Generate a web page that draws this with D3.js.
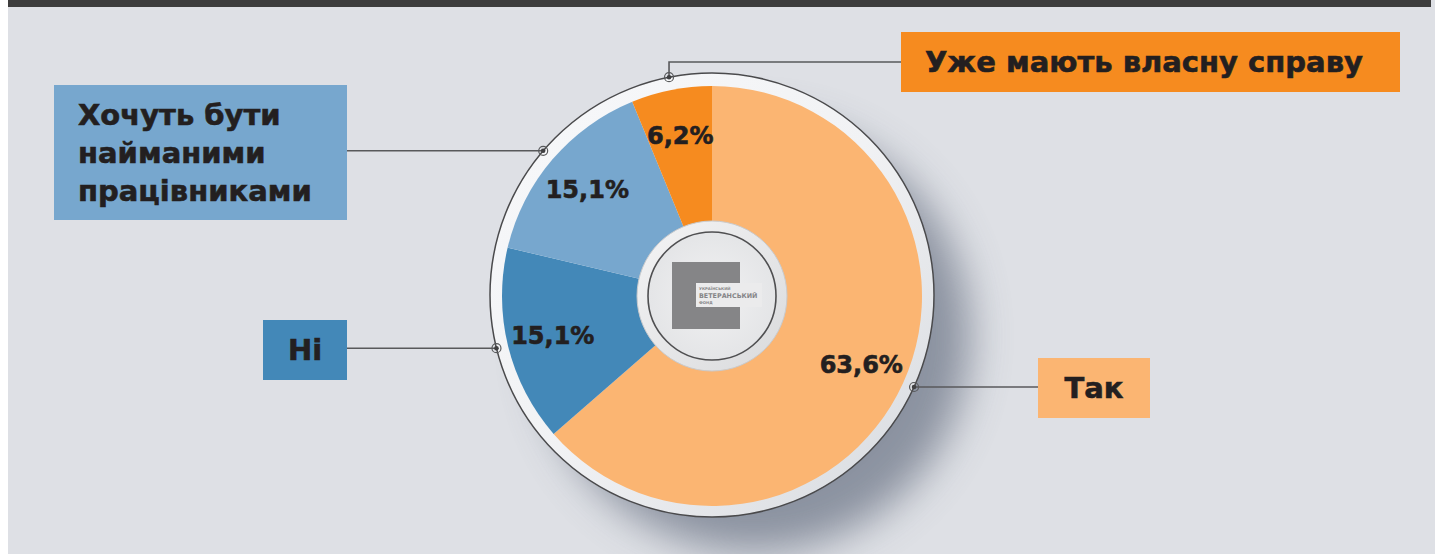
<!DOCTYPE html>
<html>
<head>
<meta charset="utf-8">
<script src="https://cdn.jsdelivr.net/npm/d3@7"></script>
<style>
  html, body { margin: 0; padding: 0; background: #ffffff; }
  svg { display: block; }
  text { font-family: "DejaVu Sans", "Noto Sans", sans-serif; font-weight: 700; fill: #231f20; }
  text.heavy { stroke: #231f20; stroke-width: 0.6px; }
</style>
</head>
<body>
<svg id="chart"></svg>
<script>
// дані
var categories = ['Так', 'Ні', 'Хочуть бути найманими працівниками', 'Уже мають власну справу'];
var values = [63.6, 15.1, 15.1, 6.2];
var value_labels = ['63,6%', '15,1%', '15,1%', '6,2%'];
var box_lines = [['Так'], ['Ні'], ['Хочуть бути', 'найманими', 'працівниками'], ['Уже мають власну справу']];
var colors = ['#fbb572', '#4388b8', '#77a7ce', '#f68b1f'];

var width = 1435;
var height = 554;
var cx = 712, cy = 296;
var r_pie = 210;
var r_ring = 222;

// рамки підписів
var boxes = [
  {'x': 1038, 'y': 358, 'w': 112, 'h': 60, 'anchor': 'middle'},
  {'x': 263, 'y': 320, 'w': 84, 'h': 60, 'anchor': 'middle'},
  {'x': 54, 'y': 85, 'w': 293, 'h': 135, 'anchor': 'start'},
  {'x': 901, 'y': 32, 'w': 499, 'h': 60, 'anchor': 'start'}
];

var svg = d3.select('#chart')
  .attr('width', width)
  .attr('height', height);

var defs = svg.append('defs');

var blur = defs.append('filter').attr('id', 'blur')
  .attr('x', '-50%').attr('y', '-50%').attr('width', '200%').attr('height', '200%');
blur.append('feGaussianBlur').attr('stdDeviation', 20);

var ring_grad = defs.append('linearGradient').attr('id', 'ring_grad')
  .attr('x1', '0%').attr('y1', '0%').attr('x2', '100%').attr('y2', '100%');
ring_grad.append('stop').attr('offset', '0%').attr('stop-color', '#f8f9fb');
ring_grad.append('stop').attr('offset', '50%').attr('stop-color', '#f1f2f4');
ring_grad.append('stop').attr('offset', '100%').attr('stop-color', '#d6d9de');

var disc_grad = defs.append('linearGradient').attr('id', 'disc_grad')
  .attr('x1', '0%').attr('y1', '0%').attr('x2', '100%').attr('y2', '100%');
disc_grad.append('stop').attr('offset', '0%').attr('stop-color', '#f4f4f5');
disc_grad.append('stop').attr('offset', '100%').attr('stop-color', '#d9dadc');

var inner_grad = defs.append('radialGradient').attr('id', 'inner_grad');
inner_grad.append('stop').attr('offset', '0%').attr('stop-color', '#f1f1f2');
inner_grad.append('stop').attr('offset', '100%').attr('stop-color', '#e4e5e7');

// фон
svg.append('rect')
  .attr('x', 8).attr('y', 0)
  .attr('width', width - 8).attr('height', height)
  .attr('fill', '#dee0e5');
svg.append('rect')
  .attr('x', 8).attr('y', 0)
  .attr('width', width - 12).attr('height', 7)
  .attr('fill', '#3d3d3d');

// тінь
svg.append('circle')
  .attr('cx', cx + 42).attr('cy', cy + 40)
  .attr('r', r_ring - 6)
  .attr('fill', '#6f7889')
  .attr('opacity', 0.75)
  .attr('filter', 'url(#blur)');

// кільце
svg.append('circle')
  .attr('cx', cx).attr('cy', cy - 1)
  .attr('r', r_ring)
  .attr('fill', 'url(#ring_grad)')
  .attr('stroke', '#4a4a4c')
  .attr('stroke-width', 1.5);

var pie = d3.pie().sort(null).value(function(d) { return d; });
var arcs = pie(values);

var arc = d3.arc().innerRadius(0).outerRadius(r_pie);
var label_arc = d3.arc().innerRadius(124).outerRadius(204);

var chart = svg.append('g')
  .attr('transform', 'translate(' + cx + ',' + cy + ')');

chart.selectAll('path.slice')
  .data(arcs).enter()
  .append('path')
  .attr('class', 'slice')
  .attr('d', arc)
  .attr('fill', function(d, i) { return colors[i]; });

chart.selectAll('text.value')
  .data(arcs).enter()
  .append('text')
  .attr('class', 'value heavy')
  .attr('transform', function(d) {
    var c = label_arc.centroid(d);
    return 'translate(' + c[0] + ',' + c[1] + ')';
  })
  .attr('text-anchor', 'middle')
  .attr('dy', '0.36em')
  .attr('font-size', 24)
  .text(function(d, i) { return value_labels[i]; });

// центральний диск
chart.append('circle')
  .attr('r', 75)
  .attr('fill', 'url(#disc_grad)')
  .attr('stroke', '#c9cacc')
  .attr('stroke-width', 1);
chart.append('circle')
  .attr('r', 64)
  .attr('fill', 'url(#inner_grad)')
  .attr('stroke', '#4f4f51')
  .attr('stroke-width', 1.6);

// логотип
var logo = chart.append('g').attr('transform', 'translate(-40,-34)');
logo.append('rect')
  .attr('x', 0).attr('y', 0).attr('width', 68).attr('height', 67)
  .attr('fill', '#858587');
logo.append('rect')
  .attr('x', 24).attr('y', 21).attr('width', 66).attr('height', 24)
  .attr('fill', '#ebebec');
logo.append('text')
  .attr('x', 27).attr('y', 28)
  .attr('font-size', 3.8).attr('font-weight', 400)
  .style('fill', '#858587')
  .text('УКРАЇНСЬКИЙ');
logo.append('text')
  .attr('x', 27).attr('y', 36)
  .attr('font-size', 6.4).attr('font-weight', 700)
  .style('fill', '#858587')
  .text('ВЕТЕРАНСЬКИЙ');
logo.append('text')
  .attr('x', 27).attr('y', 42)
  .attr('font-size', 3.8).attr('font-weight', 400)
  .style('fill', '#858587')
  .text('ФОНД');

// виноски
var leaders = svg.append('g');
arcs.forEach(function(d, i) {
  var a = (d.startAngle + d.endAngle) / 2;
  var px = cx + r_ring * Math.sin(a);
  var py = cy - 1 - r_ring * Math.cos(a);
  var b = boxes[i];
  var path;
  if (i == 3) {
    var ly = b.y + b.h / 2;
    path = 'M' + px + ',' + py + 'V' + ly + 'H' + b.x;
  } else if (b.x > cx) {
    path = 'M' + px + ',' + py + 'H' + b.x;
  } else {
    path = 'M' + px + ',' + py + 'H' + (b.x + b.w);
  }
  leaders.append('path')
    .attr('d', path)
    .attr('fill', 'none')
    .attr('stroke', '#58595b')
    .attr('stroke-width', 1.6);
  leaders.append('circle')
    .attr('cx', px).attr('cy', py).attr('r', 4.5)
    .attr('fill', 'none')
    .attr('stroke', '#58595b')
    .attr('stroke-width', 1.2);
  leaders.append('circle')
    .attr('cx', px).attr('cy', py).attr('r', 2.3)
    .attr('fill', '#3f3f41');
});

// рамки
var box_g = svg.selectAll('g.box')
  .data(boxes).enter()
  .append('g')
  .attr('class', 'box');

box_g.append('rect')
  .attr('x', function(d) { return d.x; })
  .attr('y', function(d) { return d.y; })
  .attr('width', function(d) { return d.w; })
  .attr('height', function(d) { return d.h; })
  .attr('fill', function(d, i) { return colors[i]; });

box_g.each(function(d, i) {
  var lines = box_lines[i];
  var lh = 38;
  var y0 = d.y + d.h / 2 - (lines.length - 1) * lh / 2;
  var g = d3.select(this);
  lines.forEach(function(line, k) {
    g.append('text')
      .attr('class', 'heavy')
      .attr('x', d.anchor == 'middle' ? d.x + d.w / 2 : d.x + 24)
      .attr('y', y0 + k * lh)
      .attr('dy', '0.36em')
      .attr('text-anchor', d.anchor)
      .attr('font-size', 29)
      .text(line);
  });
});
</script>
</body>
</html>
